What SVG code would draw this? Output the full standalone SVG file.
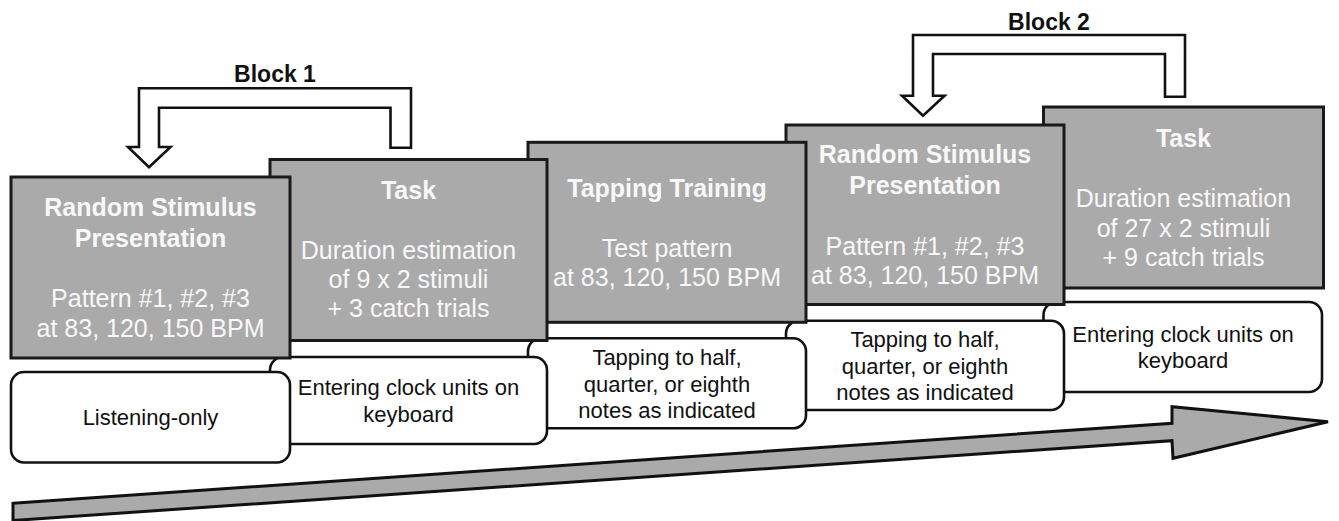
<svg xmlns="http://www.w3.org/2000/svg" width="1339" height="521" viewBox="0 0 1339 521">
  <style>
    .gbox { fill: #aaaaaa; stroke: #1a1a1a; stroke-width: 3; }
    .wbox { fill: #ffffff; stroke: #111111; stroke-width: 2.6; }
    .title { font-family: "Liberation Sans", Arial, sans-serif; font-size: 25px; font-weight: bold; fill: #f8f8f8; text-anchor: middle; }
    .body { font-family: "Liberation Sans", Arial, sans-serif; font-size: 25px; fill: #f8f8f8; text-anchor: middle; }
    .wtext { font-family: "Liberation Sans", Arial, sans-serif; font-size: 22px; fill: #111111; text-anchor: middle; }
    .blabel { font-family: "Liberation Sans", Arial, sans-serif; font-size: 23px; font-weight: bold; fill: #111111; text-anchor: middle; }
    .barrow { fill: #ffffff; stroke: #111111; stroke-width: 2.6; stroke-linejoin: miter; }
    .timeline { fill: #aaaaaa; stroke: #111111; stroke-width: 3; stroke-linejoin: miter; }
  </style>
  <rect width="1339" height="521" fill="#ffffff"/>

  <!-- Nodes drawn from right to left so earlier steps overlap later ones -->
  <g id="task2">
    <rect class="gbox" x="1043.5" y="107" width="280" height="181"/>
    <text class="title" x="1183.5" y="147.3">Task</text>
    <text class="body" x="1183.5" y="206.7">Duration estimation</text>
    <text class="body" x="1183.5" y="236.7">of 27 x 2 stimuli</text>
    <text class="body" x="1183.5" y="265.7">+ 9 catch trials</text>
  </g>
  <g id="task2-response">
    <rect class="wbox" x="1043.5" y="302" width="278.5" height="90" rx="13" ry="13"/>
    <text class="wtext" x="1183" y="342">Entering clock units on</text>
    <text class="wtext" x="1183" y="368">keyboard</text>
  </g>

  <g id="random-stimulus-2">
    <rect class="gbox" x="786" y="125" width="278" height="179.5"/>
    <text class="title" x="925" y="163.3">Random Stimulus</text>
    <text class="title" x="925" y="194.3">Presentation</text>
    <text class="body" x="925" y="255">Pattern #1, #2, #3</text>
    <text class="body" x="925" y="284.3">at 83, 120, 150 BPM</text>
  </g>
  <g id="random-stimulus-2-response">
    <rect class="wbox" x="786" y="320.7" width="278" height="89.3" rx="13" ry="13"/>
    <text class="wtext" x="925" y="346.7">Tapping to half,</text>
    <text class="wtext" x="925" y="373.5">quarter, or eighth</text>
    <text class="wtext" x="925" y="400">notes as indicated</text>
  </g>

  <g id="tapping-training">
    <rect class="gbox" x="528" y="142.3" width="278" height="180"/>
    <text class="title" x="667" y="197.3">Tapping Training</text>
    <text class="body" x="667" y="256.7">Test pattern</text>
    <text class="body" x="667" y="286">at 83, 120, 150 BPM</text>
  </g>
  <g id="tapping-training-response">
    <rect class="wbox" x="528" y="338.3" width="278" height="90" rx="13" ry="13"/>
    <text class="wtext" x="667" y="365">Tapping to half,</text>
    <text class="wtext" x="667" y="391.7">quarter, or eighth</text>
    <text class="wtext" x="667" y="418.3">notes as indicated</text>
  </g>

  <g id="task1">
    <rect class="gbox" x="270" y="159.5" width="277" height="181"/>
    <text class="title" x="408.5" y="198.5">Task</text>
    <text class="body" x="408.5" y="258.5">Duration estimation</text>
    <text class="body" x="408.5" y="288">of 9 x 2 stimuli</text>
    <text class="body" x="408.5" y="317">+ 3 catch trials</text>
  </g>
  <g id="task1-response">
    <rect class="wbox" x="270" y="357" width="277" height="87" rx="13" ry="13"/>
    <text class="wtext" x="408.5" y="395">Entering clock units on</text>
    <text class="wtext" x="408.5" y="421.7">keyboard</text>
  </g>

  <g id="random-stimulus-1">
    <rect class="gbox" x="11" y="177" width="279" height="181"/>
    <text class="title" x="150.5" y="215.5">Random Stimulus</text>
    <text class="title" x="150.5" y="246.5">Presentation</text>
    <text class="body" x="150.5" y="307">Pattern #1, #2, #3</text>
    <text class="body" x="150.5" y="336.5">at 83, 120, 150 BPM</text>
  </g>
  <g id="random-stimulus-1-response">
    <rect class="wbox" x="11" y="372" width="279" height="90.5" rx="13" ry="13"/>
    <text class="wtext" x="150.5" y="425">Listening-only</text>
  </g>

  <!-- Connectors -->
  <g id="connectors">
    <g id="block1-loop">
      <path class="barrow" d="M 411,147.7 V 88.3 H 139 V 147 H 128 L 149,167.3 L 170.5,147 H 159 V 107.7 H 390.5 V 147.7 Z"/>
      <text class="blabel" x="275" y="81.7">Block 1</text>
    </g>
    <g id="block2-loop">
      <path class="barrow" d="M 1185,96.7 V 35 H 913 V 95.7 H 902 L 923,115.7 L 944.5,95.7 H 933 V 54 H 1165 V 96.7 Z"/>
      <text class="blabel" x="1049" y="30">Block 2</text>
    </g>
    <polygon id="timeline" class="timeline" points="13,503.3 1172,423.3 1172,406.7 1328,421.7 1173,458.3 1172,440.7 13,520.5"/>
  </g>
</svg>
